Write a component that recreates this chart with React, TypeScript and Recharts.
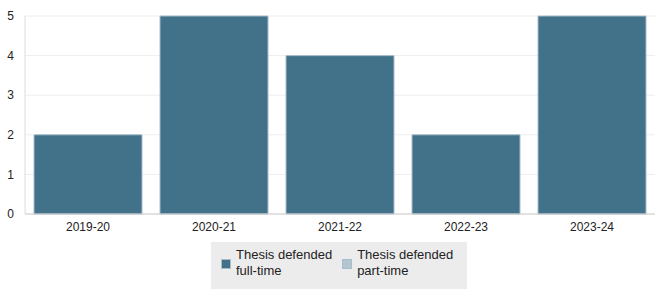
import { BarChart, Bar, XAxis, YAxis, CartesianGrid } from "recharts";

const years = ["2019-20", "2020-21", "2021-22", "2022-23", "2023-24"];
const fullTime = [2, 5, 4, 2, 5];
const partTime = [0, 0, 0, 0, 0];
const yTicks = [0, 1, 2, 3, 4, 5];

const series = [
  { key: "fullTime", label: ["Thesis defended", "full-time"], color: "#41728a" },
  { key: "partTime", label: ["Thesis defended", "part-time"], color: "#b4c6d2" },
];

const data = years.map((year, i) => ({ year, fullTime: fullTime[i], partTime: partTime[i] }));

const font = "'Liberation Sans', Arial, sans-serif";

export default function App() {
  return (
    <div style={{ position: "absolute", left: 0, top: 0, width: 665, height: 298, fontFamily: font }}>
      <BarChart
        width={665}
        height={298}
        data={data}
        margin={{ top: 16, right: 10, left: 0, bottom: 64 }}
        barCategoryGap={9}
      >
        <CartesianGrid vertical={false} stroke="#eeeeee" />
        <XAxis
          dataKey="year"
          stroke="#cccccc"
          tickLine={false}
          height={20}
          tickMargin={2}
          tick={{ fill: "#222", fontSize: 12, fontFamily: font }}
        />
        <YAxis
          width={25}
          domain={[0, 5]}
          ticks={yTicks}
          stroke="#dddddd"
          tickLine={false}
          tickMargin={5}
          tick={{ fill: "#222", fontSize: 12, fontFamily: font }}
        />
        {series.map((s) => (
          <Bar
            key={s.key}
            dataKey={s.key}
            stackId="a"
            fill={s.color}
            stroke="#a9bcc9"
            strokeWidth={1}
            isAnimationActive={false}
          />
        ))}
      </BarChart>
      <div
        style={{
          position: "absolute",
          left: 211,
          top: 242,
          width: 256,
          height: 47,
          background: "#ececec",
          display: "flex",
          alignItems: "flex-start",
          boxSizing: "border-box",
          paddingLeft: 10,
          paddingTop: 5,
          fontSize: 13,
          lineHeight: "16px",
          color: "#222",
        }}
      >
        {series.map((s, i) => (
          <div key={s.key} style={{ display: "flex", alignItems: "flex-start", marginRight: i === 0 ? 10 : 0 }}>
            <span
              style={{
                display: "inline-block",
                width: 8,
                height: 8,
                marginTop: 12,
                background: s.color,
                border: "1px solid #a9bcc9",
                marginRight: 5,
              }}
            />
            <span>
              {s.label[0]}
              <br />
              {s.label[1]}
            </span>
          </div>
        ))}
      </div>
    </div>
  );
}
